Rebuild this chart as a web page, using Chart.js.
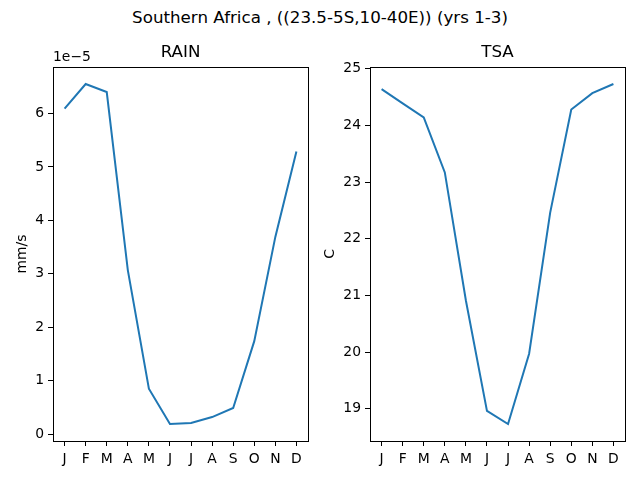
<!DOCTYPE html>
<html>
<head>
<meta charset="utf-8">
<script src="https://cdn.jsdelivr.net/npm/chart.js@4"></script>
<style>
  body { margin: 0; background: #fff; }
  #wrap { position: relative; width: 640px; height: 480px; }
  #suptitle { position: absolute; left: 0; top: 7px; width: 640px; text-align: center;
    font: 16.7px "DejaVu Sans"; line-height: 20px; color: #000; }
  canvas { position: absolute; top: 30px; }
</style>
</head>
<body>
<div id="wrap">
  <div id="suptitle">Southern Africa , ((23.5-5S,10-40E)) (yrs 1-3)</div>
  <canvas id="rainChart" width="320" height="450" style="left:0px"></canvas>
  <canvas id="tsaChart" width="320" height="450" style="left:320px"></canvas>
</div>
<script>
// data
let months = ['J', 'F', 'M', 'A', 'M', 'J', 'J', 'A', 'S', 'O', 'N', 'D'];
let rain = [6.09e-5, 6.55e-5, 6.40e-5, 3.07e-5, 0.85e-5, 0.19e-5, 0.21e-5, 0.32e-5, 0.49e-5, 1.74e-5, 3.69e-5, 5.29e-5];
let tsa = [24.64, 24.39, 24.14, 23.17, 20.91, 18.96, 18.73, 19.97, 22.46, 24.28, 24.57, 24.73];
// rain axis is shown in units of 1e-5 (matplotlib offset text)
let rainScale = 1e-5;

const font = 'DejaVu Sans';
const blue = '#1f77b4';

// axes frame + matplotlib offset text
let framePlugin = {
  id: 'frame',
  afterDraw(chart, args, opts) {
    let ctx = chart.ctx;
    let a = chart.chartArea;
    ctx.save();
    ctx.strokeStyle = '#000';
    ctx.lineWidth = 1;
    ctx.strokeRect(Math.round(a.left) + 0.5, Math.round(a.top) + 0.5,
      Math.round(a.right - a.left), Math.round(a.bottom - a.top));
    if (opts.offsetText) {
      ctx.fillStyle = '#000';
      ctx.font = '13.9px "' + font + '"';
      ctx.textAlign = 'left';
      ctx.textBaseline = 'bottom';
      ctx.fillText(opts.offsetText, a.left, a.top - 3);
    }
    ctx.restore();
  }
};

function makeChart(id, title, values, scale, yMin, yMax, yLabel, yWidth, padRight, yTitlePad, offsetText) {
  let pts = values.map((v, i) => ({ x: i, y: v / scale }));
  let tickFont = { family: font, size: 13.9 };
  let tickGrid = { display: true, drawOnChartArea: false, drawTicks: true, tickLength: 5, color: '#000' };
  return new Chart(document.getElementById(id), {
    type: 'line',
    data: {
      datasets: [{
        data: pts,
        borderColor: blue,
        borderWidth: 2,
        pointRadius: 0,
        tension: 0,
        fill: false
      }]
    },
    options: {
      responsive: false,
      animation: false,
      layout: { padding: { left: 0, right: padRight, top: 0, bottom: 0 } },
      plugins: {
        legend: { display: false },
        tooltip: { enabled: false },
        title: {
          display: true,
          fullSize: false,
          text: title,
          color: '#000',
          font: { family: font, size: 16.7, weight: 'normal', lineHeight: 1.2 },
          padding: { top: 13, bottom: 4 }
        },
        frame: { offsetText: offsetText }
      },
      scales: {
        x: {
          type: 'linear',
          min: -0.55,
          max: 11.55,
          afterFit(s) { s.height = 39; },
          grid: tickGrid,
          border: { display: false },
          ticks: {
            stepSize: 1,
            includeBounds: false,
            autoSkip: false,
            maxRotation: 0,
            padding: 5,
            color: '#000',
            font: tickFont,
            callback: (v) => months[Math.round(v)]
          }
        },
        y: {
          min: yMin,
          max: yMax,
          afterFit(s) { s.width = yWidth; },
          grid: tickGrid,
          border: { display: false },
          ticks: {
            stepSize: 1,
            includeBounds: false,
            padding: 4,
            color: '#000',
            font: tickFont,
            callback: (v) => String(Math.round(v))
          },
          title: {
            display: true,
            text: yLabel,
            color: '#000',
            font: tickFont,
            padding: { top: yTitlePad, bottom: 0 }
          }
        }
      }
    },
    plugins: [framePlugin]
  });
}

makeChart('rainChart', 'RAIN', rain, rainScale, -0.128, 6.868, 'mm/s', 53, 12, 14, '1e\u22125');
makeChart('tsaChart', 'TSA', tsa, 1, 18.43, 25.03, 'C', 50, 15, 2, null);
</script>
</body>
</html>
